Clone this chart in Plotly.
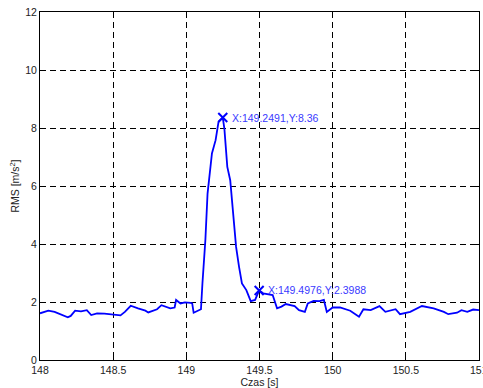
import plotly.graph_objects as go

# RMS acceleration over time
time_s = [148.0, 148.03, 148.057, 148.10, 148.148, 148.19, 148.21, 148.24, 148.28, 148.32,
          148.35, 148.39, 148.44, 148.48, 148.55, 148.58, 148.62, 148.67, 148.70, 148.72,
          148.74, 148.80, 148.83, 148.87, 148.89, 148.92, 148.93, 148.96, 148.99, 149.03,
          149.04, 149.05, 149.08, 149.10, 149.11, 149.13, 149.145, 149.175, 149.20, 149.22,
          149.2491, 149.26, 149.28, 149.30, 149.316, 149.34, 149.36, 149.38, 149.41, 149.44,
          149.47, 149.4976, 149.525, 149.57, 149.59, 149.62, 149.65, 149.68, 149.74, 149.77,
          149.81, 149.83, 149.87, 149.91, 149.94, 149.96, 150.00, 150.05, 150.12, 150.18,
          150.21, 150.26, 150.32, 150.36, 150.43, 150.46, 150.53, 150.61, 150.69, 150.76,
          150.79, 150.85, 150.88, 150.92, 150.96, 151.0]
rms = [1.61, 1.66, 1.70, 1.66, 1.55, 1.47, 1.52, 1.70, 1.68, 1.72,
       1.55, 1.61, 1.60, 1.58, 1.54, 1.66, 1.87, 1.78, 1.74, 1.70,
       1.64, 1.75, 1.89, 1.81, 1.78, 1.81, 2.07, 1.95, 1.99, 1.97,
       1.95, 1.63, 1.70, 1.75, 2.64, 4.13, 5.74, 7.12, 7.58, 8.21,
       8.36, 7.98, 6.66, 6.20, 5.28, 3.90, 3.22, 2.64, 2.41, 2.03,
       2.07, 2.3988, 2.30, 2.27, 2.24, 1.78, 1.84, 1.93, 1.86, 1.72,
       1.66, 1.95, 2.04, 2.03, 2.07, 1.66, 1.81, 1.81, 1.70, 1.49,
       1.75, 1.72, 1.86, 1.66, 1.75, 1.58, 1.66, 1.86, 1.78, 1.66,
       1.58, 1.63, 1.72, 1.66, 1.74, 1.72]

# Data cursors
cursor_x = [149.2491, 149.4976]
cursor_y = [8.36, 2.3988]
cursor_labels = ["X:149.2491,Y:8.36", "X:149.4976,Y:2.3988"]

x_ticks = [148, 148.5, 149, 149.5, 150, 150.5, 151]
y_ticks = [0, 2, 4, 6, 8, 10, 12]

FONT = "Liberation Sans, Arial"

fig = go.Figure()
fig.add_trace(go.Scatter(x=time_s, y=rms, mode="lines",
                         line=dict(color="#0000ff", width=1.8), showlegend=False))
fig.add_trace(go.Scatter(x=cursor_x, y=cursor_y, mode="markers",
                         marker=dict(symbol="x-thin", size=9, color="#0000ff",
                                     line=dict(color="#0000ff", width=2)),
                         showlegend=False))

for cx, cy, lbl in zip(cursor_x, cursor_y, cursor_labels):
    fig.add_annotation(x=cx, y=cy, text=lbl, showarrow=False, xanchor="left",
                       yanchor="middle", xshift=7,
                       font=dict(family=FONT, size=10.5, color="#3a3aff"))

# last x tick label sits on the right edge and runs off the canvas
fig.add_annotation(x=x_ticks[-1], y=0, yref="paper", text=f"{x_ticks[-1]:g}",
                   showarrow=False, xanchor="center", yanchor="top", yshift=-2,
                   font=dict(family=FONT, size=10.5, color="#222222"))

axis_common = dict(
    showline=True, linecolor="black", linewidth=1, mirror="ticks",
    ticks="inside", ticklen=4, tickcolor="black",
    showgrid=True, gridcolor="black", gridwidth=1, griddash="6px,4px",
    zeroline=False,
    tickfont=dict(family=FONT, size=10.5, color="#222222"),
)

fig.update_xaxes(range=[148, 151], tickvals=x_ticks[:-1],
                 ticktext=[f"{v:g}" for v in x_ticks[:-1]],
                 title=dict(text="Czas [s]", standoff=2,
                            font=dict(family=FONT, size=10.5, color="#222222")),
                 **axis_common)
fig.update_yaxes(range=[0, 12], tickvals=y_ticks,
                 title=dict(text="RMS [m/s<sup>2</sup>]", standoff=3,
                            font=dict(family=FONT, size=10.5, color="#222222")),
                 **axis_common)

fig.update_layout(
    width=483, height=388,
    margin=dict(l=40, r=4, t=12, b=28),
    plot_bgcolor="white", paper_bgcolor="white",
)

fig.write_html("out.html")
